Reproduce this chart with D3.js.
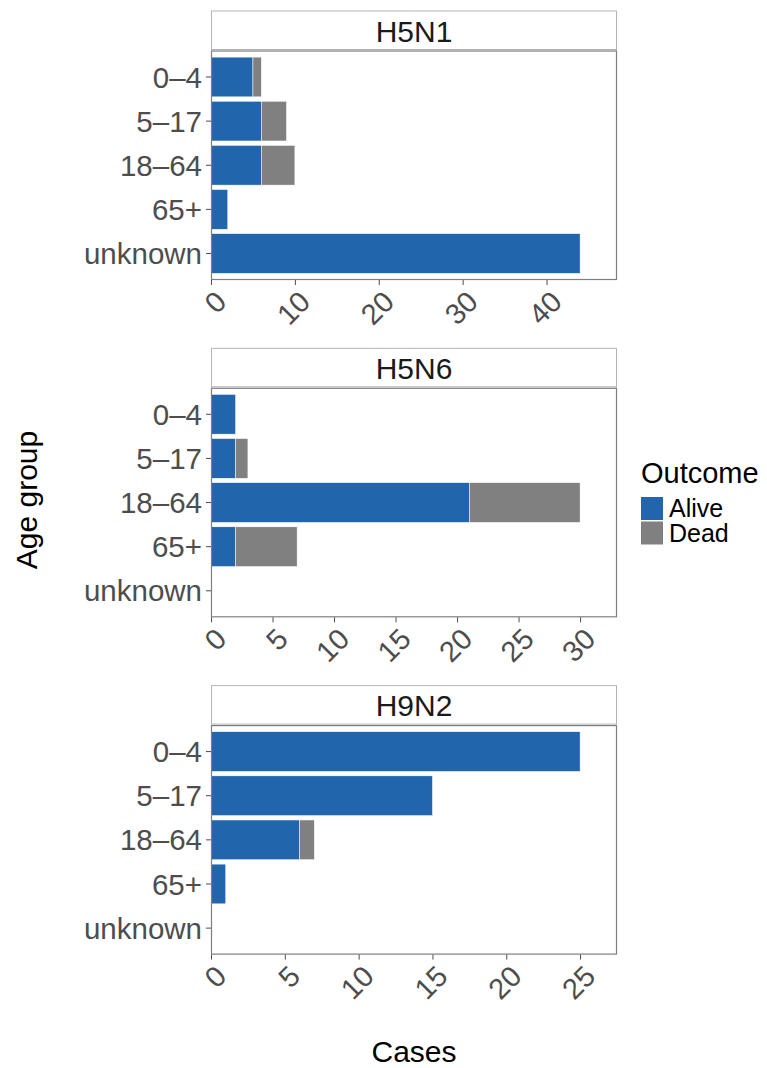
<!DOCTYPE html>
<meta charset="utf-8">
<style>
  body { margin: 0; background: #fff; }
  text { font-family: "Liberation Sans", Arial, sans-serif; }
</style>
<body>
<script src="https://cdn.jsdelivr.net/npm/d3@7"></script>
<script>
// age groups (top to bottom) and panels
var ageGroups = ["0–4", "5–17", "18–64", "65+", "unknown"];
var subtypes = ["H5N1", "H5N6", "H9N2"];
var outcomes = ["Alive", "Dead"];

// case counts per age group, one pair of arrays per subtype
var aliveH5N1 = [5, 6, 6, 2, 44],
    deadH5N1  = [1, 3, 4, 0, 0];
var aliveH5N6 = [2, 2, 21, 2, 0],
    deadH5N6  = [0, 1, 9, 5, 0];
var aliveH9N2 = [25, 15, 6, 1, 0],
    deadH9N2  = [0, 0, 1, 0, 0];

// x tick labels per panel
var ticksH5N1 = [0, 10, 20, 30, 40],
    ticksH5N6 = [0, 5, 10, 15, 20, 25, 30],
    ticksH9N2 = [0, 5, 10, 15, 20, 25];

var colors = { Alive: "#2166ac", Dead: "#808080" };

var panels = [
  { name: subtypes[0], alive: aliveH5N1, dead: deadH5N1, ticks: ticksH5N1 },
  { name: subtypes[1], alive: aliveH5N6, dead: deadH5N6, ticks: ticksH5N6 },
  { name: subtypes[2], alive: aliveH9N2, dead: deadH9N2, ticks: ticksH9N2 }
];

var width = 767, height = 1068;
var left = 211, right = 617,
    firstTop = 10.5, panelStep = 337.3,
    stripH = 40, plotH = 229.5;

var svg = d3.select("body").append("svg")
  .attr("width", width)
  .attr("height", height);

var stack = d3.stack().keys(outcomes);

panels.forEach(function(p, i) {
  var top = firstTop + i * panelStep,
      plotTop = top + stripH,
      plotBottom = plotTop + plotH;

  var rows = ageGroups.map(function(a, j) {
    return { age: a, Alive: p.alive[j], Dead: p.dead[j] };
  });
  var series = stack(rows);
  var maxTotal = d3.max(rows, function(d) { return d.Alive + d.Dead; });

  var x = d3.scaleLinear().domain([0, maxTotal * 1.1]).range([left, right]);
  var y = d3.scaleBand().domain(ageGroups).range([plotTop, plotBottom])
    .paddingInner(0.1).paddingOuter(0.15);

  var g = svg.append("g");

  // strip
  g.append("rect")
    .attr("x", left + 0.5).attr("y", top + 0.5)
    .attr("width", right - left - 1).attr("height", stripH - 1.5)
    .style("fill", "white").style("stroke", "#b3b3b3").style("stroke-width", 1);
  g.append("text")
    .attr("x", (left + right) / 2).attr("y", top + 31)
    .attr("text-anchor", "middle")
    .style("font-size", "30px").style("fill", "#1a1a1a")
    .text(p.name);

  // bars
  g.selectAll(".layer")
    .data(series)
    .enter().append("g")
    .style("fill", function(d) { return colors[d.key]; })
    .selectAll("rect")
    .data(function(d) { return d.filter(function(e) { return e[1] > e[0]; }); })
    .enter().append("rect")
    .attr("x", function(d) { return x(d[0]); })
    .attr("width", function(d) { return x(d[1]) - x(d[0]); })
    .attr("y", function(d) { return y(d.data.age); })
    .attr("height", y.bandwidth())
    .style("stroke", "white").style("stroke-width", 0.5);

  // panel border
  g.append("rect")
    .attr("x", left + 0.5).attr("y", plotTop + 0.5)
    .attr("width", right - left - 1).attr("height", plotH - 1)
    .style("fill", "none").style("stroke", "#7f7f7f").style("stroke-width", 1.2);

  // y axis
  var yAxis = g.append("g")
    .attr("transform", "translate(" + left + ",0)")
    .call(d3.axisLeft(y).tickSize(5).tickPadding(4));
  yAxis.select(".domain").remove();
  yAxis.selectAll(".tick line").style("stroke", "#4d4d4d").style("stroke-width", 1);
  yAxis.selectAll(".tick text")
    .style("font-size", "29.5px").style("fill", "#4d4d4d")
    .attr("dy", "0.36em").style("font-family", "Liberation Sans, Arial, sans-serif");

  // x axis
  var xAxis = g.append("g")
    .attr("transform", "translate(0," + plotBottom + ")")
    .call(d3.axisBottom(x).tickValues(p.ticks).tickSize(5).tickFormat(d3.format("d")));
  xAxis.select(".domain").remove();
  xAxis.selectAll(".tick line").style("stroke", "#4d4d4d").style("stroke-width", 1);
  xAxis.selectAll(".tick text")
    .attr("y", 0).attr("dy", "0.71em")
    .attr("text-anchor", "end")
    .attr("transform", "translate(2,9) rotate(-45)")
    .style("font-size", "29px").style("fill", "#4d4d4d")
    .style("font-family", "Liberation Sans, Arial, sans-serif");
});

// axis titles
svg.append("text")
  .attr("transform", "translate(37,500) rotate(-90)")
  .attr("text-anchor", "middle")
  .style("font-size", "30px").style("fill", "black")
  .text("Age group");

svg.append("text")
  .attr("x", (left + right) / 2).attr("y", 1062)
  .attr("text-anchor", "middle")
  .style("font-size", "30px").style("fill", "black")
  .text("Cases");

// legend
var legend = svg.append("g").attr("transform", "translate(641,0)");
legend.append("text")
  .attr("x", 0).attr("y", 483)
  .style("font-size", "29px").style("fill", "black")
  .text("Outcome");
var item = legend.selectAll(".item")
  .data(outcomes)
  .enter().append("g")
  .attr("transform", function(d, i) { return "translate(0," + (497 + i * 24.5) + ")"; });
item.append("rect")
  .attr("width", 22).attr("height", 23)
  .style("fill", function(d) { return colors[d]; });
item.append("text")
  .attr("x", 28).attr("y", 20)
  .style("font-size", "25px").style("fill", "black")
  .text(function(d) { return d; });
</script>
</body>
